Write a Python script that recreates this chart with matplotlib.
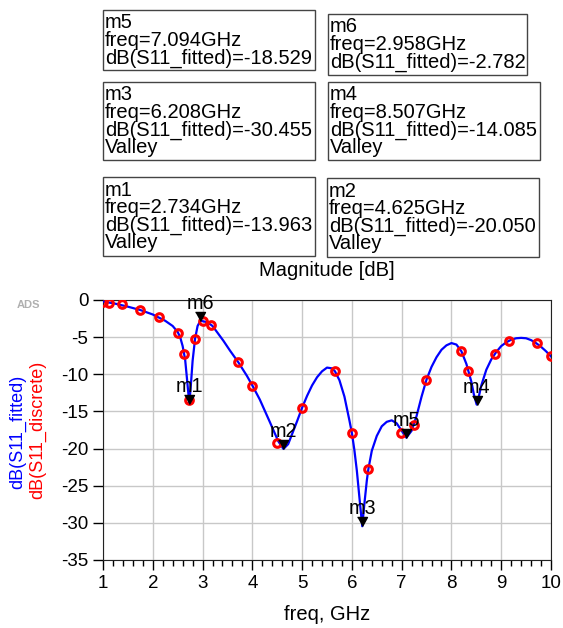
import numpy as np
import matplotlib
matplotlib.use("Agg")
import matplotlib.pyplot as plt
from matplotlib.patches import Rectangle
from matplotlib.ticker import MultipleLocator

plt.rcParams['font.family'] = ['Liberation Sans', 'DejaVu Sans']
plt.rcParams['axes.unicode_minus'] = False

# fitted S11 curve
fit_f = [1.0, 1.25, 1.5, 1.75, 2.0, 2.25, 2.4, 2.5, 2.55, 2.6, 2.65, 2.69, 2.734, 2.77, 2.8,
         2.85, 2.9, 2.958, 3.0, 3.1, 3.2, 3.3, 3.42, 3.55, 3.72, 3.89, 4.0, 4.15, 4.35, 4.52,
         4.625, 4.72, 4.79, 4.9, 5.0, 5.1, 5.2, 5.3, 5.4, 5.5, 5.6, 5.66, 5.75, 5.85, 5.95,
         6.0, 6.05, 6.1, 6.15, 6.208, 6.25, 6.3, 6.33, 6.4, 6.5, 6.6, 6.7, 6.8, 6.9, 7.0,
         7.094, 7.2, 7.3, 7.4, 7.5, 7.6, 7.7, 7.8, 7.9, 8.0, 8.1, 8.2, 8.3, 8.4, 8.45,
         8.507, 8.56, 8.6, 8.7, 8.8, 8.9, 9.0, 9.1, 9.2, 9.3, 9.4, 9.5, 9.6, 9.7, 9.8, 9.9, 10.0]
fit_db = [-0.2, -0.5, -0.9, -1.35, -1.95, -2.8, -3.5, -4.3, -5.0, -6.2, -8.0, -10.8, -13.963,
          -11.0, -8.2, -5.2, -3.5, -2.782, -2.85, -3.0, -3.5, -4.4, -5.5, -6.8, -8.4, -10.2,
          -11.5, -13.4, -16.4, -19.0, -20.05, -19.4, -18.2, -16.3, -14.5, -12.9, -11.5, -10.4,
          -9.6, -9.1, -9.2, -9.6, -10.8, -13.0, -16.2, -17.9, -20.2, -23.0, -26.5, -30.455,
          -27.5, -24.3, -22.8, -20.3, -18.3, -17.0, -16.4, -16.2, -16.6, -17.6, -18.529,
          -17.6, -15.6, -13.0, -10.7, -9.0, -7.7, -6.7, -6.1, -5.8, -6.0, -6.9, -8.6, -11.0,
          -12.7, -14.085, -12.7, -11.5, -9.4, -8.0, -7.0, -6.2, -5.7, -5.35, -5.15, -5.1,
          -5.15, -5.4, -5.8, -6.3, -6.9, -7.6]

# discrete S11 samples
disc_f = [1.0, 1.13, 1.375, 1.75, 2.125, 2.5, 2.63, 2.73, 2.85, 3.0, 3.17, 3.72, 4.0, 4.5,
          5.0, 5.66, 6.0, 6.33, 6.98, 7.25, 7.49, 8.19, 8.33, 8.88, 9.16, 9.71, 10.0]
disc_db = [-0.27, -0.36, -0.6, -1.35, -2.3, -4.4, -7.3, -13.5, -5.2, -2.8, -3.3, -8.4, -11.6,
           -19.3, -14.5, -9.6, -17.9, -22.8, -17.9, -16.8, -10.8, -6.8, -9.5, -7.3, -5.5,
           -5.8, -7.6]

# markers
mk_names = ["m1", "m2", "m3", "m4", "m5", "m6"]
mk_freq = [2.734, 4.625, 6.208, 8.507, 7.094, 2.958]
mk_db = [-13.963, -20.050, -30.455, -14.085, -18.529, -2.782]
mk_valley = [True, True, True, True, False, False]

W, H = 563, 628
fig = plt.figure(figsize=(W / 100, H / 100), dpi=100)


def fx(x):
    return x / W


def fy(y):
    return 1 - y / H


ax = fig.add_axes([fx(103), fy(560), (551 - 103) / W, (560 - 300) / H])
ax.plot(fit_f, fit_db, color="blue", lw=1.6, zorder=3)
ax.plot(disc_f, disc_db, "o", ms=5.5, mfc="none", mec="red", mew=2.2, zorder=4)

tri = [(-0.55, 1), (0.55, 1), (0, 0)]
for name, f, d in zip(mk_names, mk_freq, mk_db):
    ax.plot(f, d, marker=tri, ms=13, color="black", zorder=5, clip_on=False)
    ax.annotate(name, (f, d), xytext=(0, 8.5), textcoords="offset points",
                ha="center", va="baseline", fontsize=14.3, zorder=6)

ax.set_xlim(1, 10)
ax.set_ylim(-35, 0)
ax.set_xticks(range(1, 11))
ax.set_yticks(range(-35, 1, 5))
ax.xaxis.set_minor_locator(MultipleLocator(0.2))
ax.tick_params(axis="both", direction="out", length=7, width=1, labelsize=13.5, pad=3.5)
ax.tick_params(axis="x", which="minor", length=4, width=1)
ax.grid(True, color="#c8c8c8", lw=1)
ax.set_axisbelow(True)
for s in ax.spines.values():
    s.set_color("#222222")
ax.set_xlabel("freq, GHz", fontsize=14.5, labelpad=10)

fig.text(fx(327), fy(270), "Magnitude [dB]", ha="center", va="center", fontsize=14.5)
fig.text(fx(18), fy(432), "dB(S11_fitted)", color="blue", rotation=90,
         ha="center", va="center", fontsize=13)
fig.text(fx(38), fy(430), "dB(S11_discrete)", color="red", rotation=90,
         ha="center", va="center", fontsize=13)
fig.text(fx(28), fy(305), "ADS", color="#b0b0b0", fontsize=8, fontweight="bold",
         ha="center", va="center")

# marker readout boxes (left, top, right, bottom in pixels)
boxes = {
    "m5": (103, 10, 315, 70),
    "m6": (328, 14, 527, 75),
    "m3": (103, 82, 315, 160),
    "m4": (328, 82, 540, 160),
    "m1": (103, 177, 315, 256),
    "m2": (327, 178, 539, 257),
}
for name, f, d, v in zip(mk_names, mk_freq, mk_db, mk_valley):
    l, t, r, b = boxes[name]
    fig.patches.append(Rectangle((fx(l), fy(b)), (r - l) / W, (b - t) / H,
                                 transform=fig.transFigure, fill=False,
                                 ec="#444444", lw=1))
    lines = [name, f"freq={f:.3f}GHz", f"dB(S11_fitted)={d:.3f}"]
    if v:
        lines.append("Valley")
    for i, s in enumerate(lines):
        fig.text(fx(l + 2), fy(t + 18.5 + 17.6 * i), s, ha="left", va="baseline",
                 fontsize=14.5)

fig.savefig("out.png", dpi=100)
